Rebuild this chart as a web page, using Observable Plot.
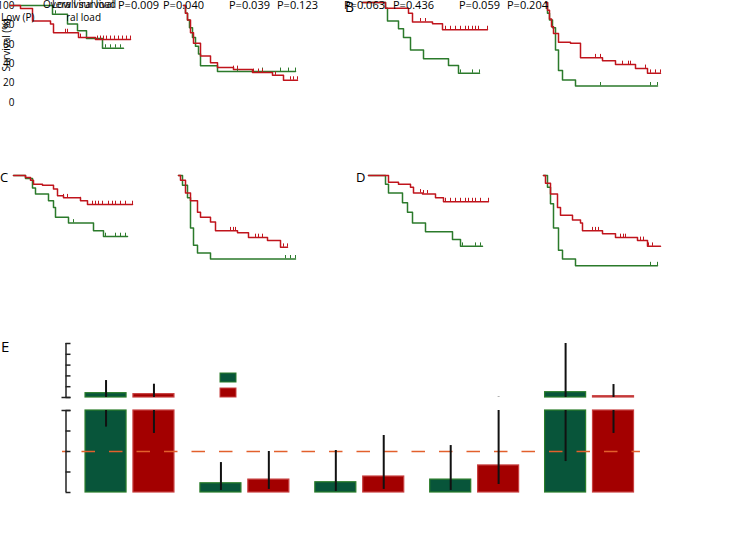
<!DOCTYPE html>
<html><head><meta charset="utf-8">
<script src="https://cdn.jsdelivr.net/npm/d3@7"></script>
<script src="https://cdn.jsdelivr.net/npm/@observablehq/plot@0.6"></script>
<style>
body{margin:0;background:#fff}
#root{position:relative;width:735px;height:539px;overflow:hidden;background:#fff}
#root svg{position:absolute;left:0;top:0}
</style></head>
<body><div id="root"></div>
<script>
// ---------- Kaplan-Meier data: [time (months), survival (%)] ----------
const aOsRed    = [[0,100],[5,97],[11,84],[20,81],[21.5,72],[34,67],[42.5,65],[60,65]];
const aOsGreen  = [[0,100],[21,91],[28.5,81],[33.5,74],[38,66],[46,56],[56.5,56]];
const aPfsRed   = [[0,100],[1,92],[2,85],[3.5,72],[5,61],[8.5,48],[13.5,41],[17,36],[25,34],[34.5,31],[44.5,28],[50,23],[57,23]];
const aPfsGreen = [[0,100],[1,92],[2,85],[3,77],[4.5,67],[6,58],[7.5,50],[8.5,38],[17,32],[56,32]];
const bOsRed    = [[0,100],[11.5,94],[23,89],[25,80],[35,78],[40,72],[62.5,72]];
const bOsGreen  = [[0,100],[11.5,94],[12.5,81],[18,73],[20.5,64],[24,51],[30.5,42],[43,35],[48,27],[58.5,27]];
const bPfsRed   = [[0,100],[1,92],[2,83],[3,75],[4,68],[6.5,59],[12.5,58],[17.5,43],[28.5,40],[35,36],[45,32],[51,27],[57.5,27]];
const bPfsGreen = [[0,100],[1,89],[2,82],[3.5,74],[5,51],[6.5,30],[8.5,20],[15,14],[56,14]];
const cOsRed    = [[0,100],[6,98],[8.5,95],[10,91],[14.5,90],[20,86],[22,79],[25,77],[33.5,74],[37,70],[59.5,70]];
const cOsGreen  = [[0,100],[6,97],[9.5,87],[11,81],[17.5,74],[20,67],[21,57],[27.5,51],[40,43],[45,37],[57,37]];
const cPfsRed   = [[0,100],[1,95],[3.5,82],[6,74],[9.5,62],[11,57],[16,52],[18.5,43],[29.5,41],[35,36],[44.5,33],[51,26],[54.5,26]];
const cPfsGreen = [[0,100],[2,90],[4.5,77],[6,46],[7.5,28],[9.5,20],[16,14],[58.5,14]];
const dOsRed    = [[0,100],[10,93],[15,91],[21,88],[22.5,82],[27,81],[33.5,77],[37.5,73],[60,73]];
const dOsGreen  = [[0,100],[8.5,91],[10,82],[17,72],[19.5,62],[22,51],[28.5,42],[42,34],[46,27],[57,27]];
const dPfsRed   = [[0,100],[1,92],[3.5,81],[7,67],[8.5,59],[14.5,54],[18.5,51],[19.5,43],[29.5,40],[36,36],[47,33],[52,27],[58.5,27]];
const dPfsGreen = [[0,100],[2,88],[3.5,71],[5,46],[7.5,23],[9.5,14],[16,7],[57,7]];

// censoring times (months)
const aOsRedC    = [27.5,28.5,35,43.5,45,46.5,48,50,52,54,56,58,60];
const aOsGreenC  = [22.5,47.5,50,52.5,55];
const aPfsRedC   = [25,27,35,37.5,39.5,46,53.5,55,57];
const aPfsGreenC = [27,39.5,48.5,52.5,56];
const bOsRedC    = [29,31.5,41.5,44,46.5,49,51.5,53,55,56.5,58,62.5];
const bOsGreenC  = [49,55,58.5];
const bPfsRedC   = [25,27.5,38.5,41.5,42.5,50,52.5,55,57.5];
const bPfsGreenC = [27.5,52.5,56];
const cOsRedC    = [22,25,27,33.5,39.5,41,42.5,44.5,47.5,49.5,51,53.5,56,59.5];
const cOsGreenC  = [30,46,51,53.5,56];
const cPfsRedC   = [26,27.5,28.5,38.5,40,42,51,52.5,54.5];
const cPfsGreenC = [53.5,56,58.5];
const dOsRedC    = [26,27.5,29.5,38.5,41,43.5,46,48.5,50,52,53.5,56,60];
const dOsGreenC  = [47,53.5,56];
const dPfsRedC   = [24.5,26,27.5,38.5,40,41,48.5,50,52.5,54.5];
const dPfsGreenC = [53.5,57];

const survTicks = [0,20,40,60,80,100];
const pValues = ["P=0.009","P=0.040","P=0.039","P=0.123","P=0.063","P=0.436","P=0.059","P=0.204"];

// ---------- Panel E bar data ----------
const groups    = ["1","2","3","4","5"];
const greenMean = [14.0, 0.45, 0.50, 0.63, 14.9];
const greenLo   = [3.19, 0.10, 0.05, 0.10, 1.51];
const greenHi   = [25.7, 1.46, 2.05, 2.29, 60];
const redMean   = [13.1, 0.63, 0.78, 1.32, 11.2];
const redLo     = [2.88, 0.15, 0.15, 0.39, 2.88];
const redHi     = [22.3, 2.00, 2.78, 10.3, 22.0];
const lowerTicks = [0,1,2,3,4];
const upperTicks = [10,20,30,40,50,60];
const refValue = 2;
const breakLow = 4, breakHigh = 10;

// ---------- styles ----------
const W = 735, H = 539;
const RED = "#c0141c", GREEN = "#2b7a2b";
const BAR_GREEN = "#08553a", BAR_GREEN_STROKE = "#2a7d2a";
const BAR_RED = "#a30000", BAR_RED_STROKE = "#c84040";
const FONT = "'Open Sans', 'DejaVu Sans', sans-serif";
const root = document.getElementById("root");

const stepAt = (curve, t) => { let s = curve[0][1]; for (const p of curve) if (p[0] <= t) s = p[1]; return s; };
const cens = (curve, times) => times.map(t => ({t, s: stepAt(curve, t)}));

const panels = [
  {x0:10,  y0:102, red:aOsRed,  green:aOsGreen,  rc:aOsRedC,  gc:aOsGreenC, axis:true},
  {x0:183, y0:102, red:aPfsRed, green:aPfsGreen, rc:aPfsRedC, gc:aPfsGreenC},
  {x0:362, y0:99,  red:bOsRed,  green:bOsGreen,  rc:bOsRedC,  gc:bOsGreenC},
  {x0:545, y0:99,  red:bPfsRed, green:bPfsGreen, rc:bPfsRedC, gc:bPfsGreenC},
  {x0:13,  y0:272, red:cOsRed,  green:cOsGreen,  rc:cOsRedC,  gc:cOsGreenC},
  {x0:178, y0:272, red:cPfsRed, green:cPfsGreen, rc:cPfsRedC, gc:cPfsGreenC},
  {x0:368, y0:272, red:dOsRed,  green:dOsGreen,  rc:dOsRedC,  gc:dOsGreenC},
  {x0:543, y0:272, red:dPfsRed, green:dPfsGreen, rc:dPfsRedC, gc:dPfsGreenC}
];

for (const p of panels) {
  const svg = Plot.plot({
    width: W, height: H, margin: 0, marginLeft: p.axis ? 16 : 0,
    style: {background: "transparent", fontFamily: FONT, fontSize: "10px", color: "#000"},
    x: {domain: [0, 60], range: [p.x0, p.x0 + 120], axis: null},
    y: {domain: [0, 100], range: [p.y0, p.y0 - 97], axis: p.axis ? "left" : null,
        ticks: survTicks, tickSize: 0, tickPadding: 2, label: null},
    marks: [
      Plot.line(p.green, {x: d => d[0], y: d => d[1], curve: "step-after", stroke: GREEN, strokeWidth: 1.5}),
      Plot.line(p.red, {x: d => d[0], y: d => d[1], curve: "step-after", stroke: RED, strokeWidth: 1.5}),
      Plot.ruleX(cens(p.green, p.gc), {x: "t", y1: "s", y2: d => d.s + 3.5, stroke: GREEN, strokeWidth: 1}),
      Plot.ruleX(cens(p.red, p.rc), {x: "t", y1: "s", y2: d => d.s + 3.5, stroke: RED, strokeWidth: 1})
    ]
  });
  root.appendChild(svg);
}

// ---------- Panel E ----------
const U = 114.89;                 // px per group step
const AX = -0.057;                // axis position in x units
const rows = [];
groups.forEach((g, i) => {
  const c = i + 0.5;
  rows.push({g, s: "green", mean: greenMean[i], lo: greenLo[i], hi: greenHi[i], x1: c - 0.387, x2: c - 0.030, xc: c - 0.2085});
  rows.push({g, s: "red", mean: redMean[i], lo: redLo[i], hi: redHi[i], x1: c + 0.030, x2: c + 0.387, xc: c + 0.2085});
});
const barPieces = [], errPieces = [];
for (const r of rows) {
  barPieces.push({...r, y1: 0, y2: Math.min(r.mean, breakLow)});
  if (r.mean > breakHigh) barPieces.push({...r, y1: breakHigh, y2: r.mean});
  if (r.lo < breakLow) errPieces.push({...r, y1: r.lo, y2: Math.min(r.hi, breakLow)});
  if (r.hi > breakHigh) errPieces.push({...r, y1: Math.max(r.lo, breakHigh), y2: r.hi});
}
const fillOf = d => d.s === "green" ? BAR_GREEN : BAR_RED;
const strokeOf = d => d.s === "green" ? BAR_GREEN_STROKE : BAR_RED_STROKE;

const eSvg = Plot.plot({
  width: W, height: H, margin: 0, marginLeft: 62, marginRight: 95,
  style: {background: "transparent", fontFamily: FONT},
  x: {domain: [0, 5], range: [72.05, 646.5], axis: null},
  y: {type: "linear", domain: [0, breakLow, breakHigh, 60], range: [492, 410, 397, 343], axis: null},
  marks: [
    Plot.rectY(barPieces, {x1: "x1", x2: "x2", y1: "y1", y2: "y2", fill: fillOf, stroke: strokeOf, strokeWidth: 1.2}),
    Plot.ruleY([refValue], {x1: -0.0875, x2: 4.943, stroke: "#e2602c", strokeWidth: 1.5, strokeDasharray: "13.5,14", strokeDashoffset: 8}),
    Plot.ruleX(errPieces, {x: "xc", y1: "y1", y2: "y2", stroke: "#111", strokeWidth: 2}),
    Plot.ruleX([AX], {y1: 0, y2: breakLow, stroke: "#222", strokeWidth: 1.5}),
    Plot.ruleX([AX], {y1: breakHigh, y2: 60, stroke: "#222", strokeWidth: 1.5}),
    Plot.ruleY(lowerTicks.concat(upperTicks), {x1: AX, x2: AX + 5 / U, stroke: "#222", strokeWidth: 1.5}),
    Plot.ruleY([breakLow, breakHigh], {x1: AX - 4 / U, x2: AX + 5 / U, stroke: "#222", strokeWidth: 1.5})
  ]
});
root.appendChild(eSvg);

// ---------- text overlay ----------
const ov = d3.select(root).append("svg").attr("width", W).attr("height", H)
  .style("font-family", FONT).style("position", "absolute").style("left", 0).style("top", 0);
const pX = [118, 163, 229, 277, 344, 393, 459, 507];
pValues.forEach((t, i) => ov.append("text").attr("x", pX[i]).attr("y", 8.5).attr("font-size", 11).text(t));
const letters = [["B", 345, 12, 14], ["C", 0, 182, 13], ["D", 356, 182, 13], ["E", 1, 352, 15]];
letters.forEach(([t, x, y, s]) => ov.append("text").attr("x", x).attr("y", y).attr("font-size", s).text(t));
ov.append("text").attr("x", 43).attr("y", 8).attr("font-size", 10).text("Overall survival");
ov.append("text").attr("x", 52).attr("y", 8).attr("font-size", 10).text("Low viral load");
ov.append("text").attr("x", 1).attr("y", 21).attr("font-size", 10).text("Low (P)");
ov.append("clipPath").attr("id", "hl").append("rect").attr("x", 67).attr("y", 0).attr("width", 60).attr("height", 40);
ov.append("text").attr("x", 101).attr("y", 21).attr("font-size", 10).attr("text-anchor", "end")
  .attr("clip-path", "url(#hl)").text("High viral load");
ov.append("text").attr("transform", "translate(10,45) rotate(-90)").attr("text-anchor", "middle")
  .attr("font-size", 10).text("Survival (%)");

// legend swatches
ov.append("rect").attr("x", 220).attr("y", 373).attr("width", 16).attr("height", 9).attr("fill", BAR_GREEN).attr("stroke", BAR_GREEN_STROKE);
ov.append("rect").attr("x", 220).attr("y", 388).attr("width", 16).attr("height", 9).attr("fill", BAR_RED).attr("stroke", BAR_RED_STROKE);
</script>
</body></html>
